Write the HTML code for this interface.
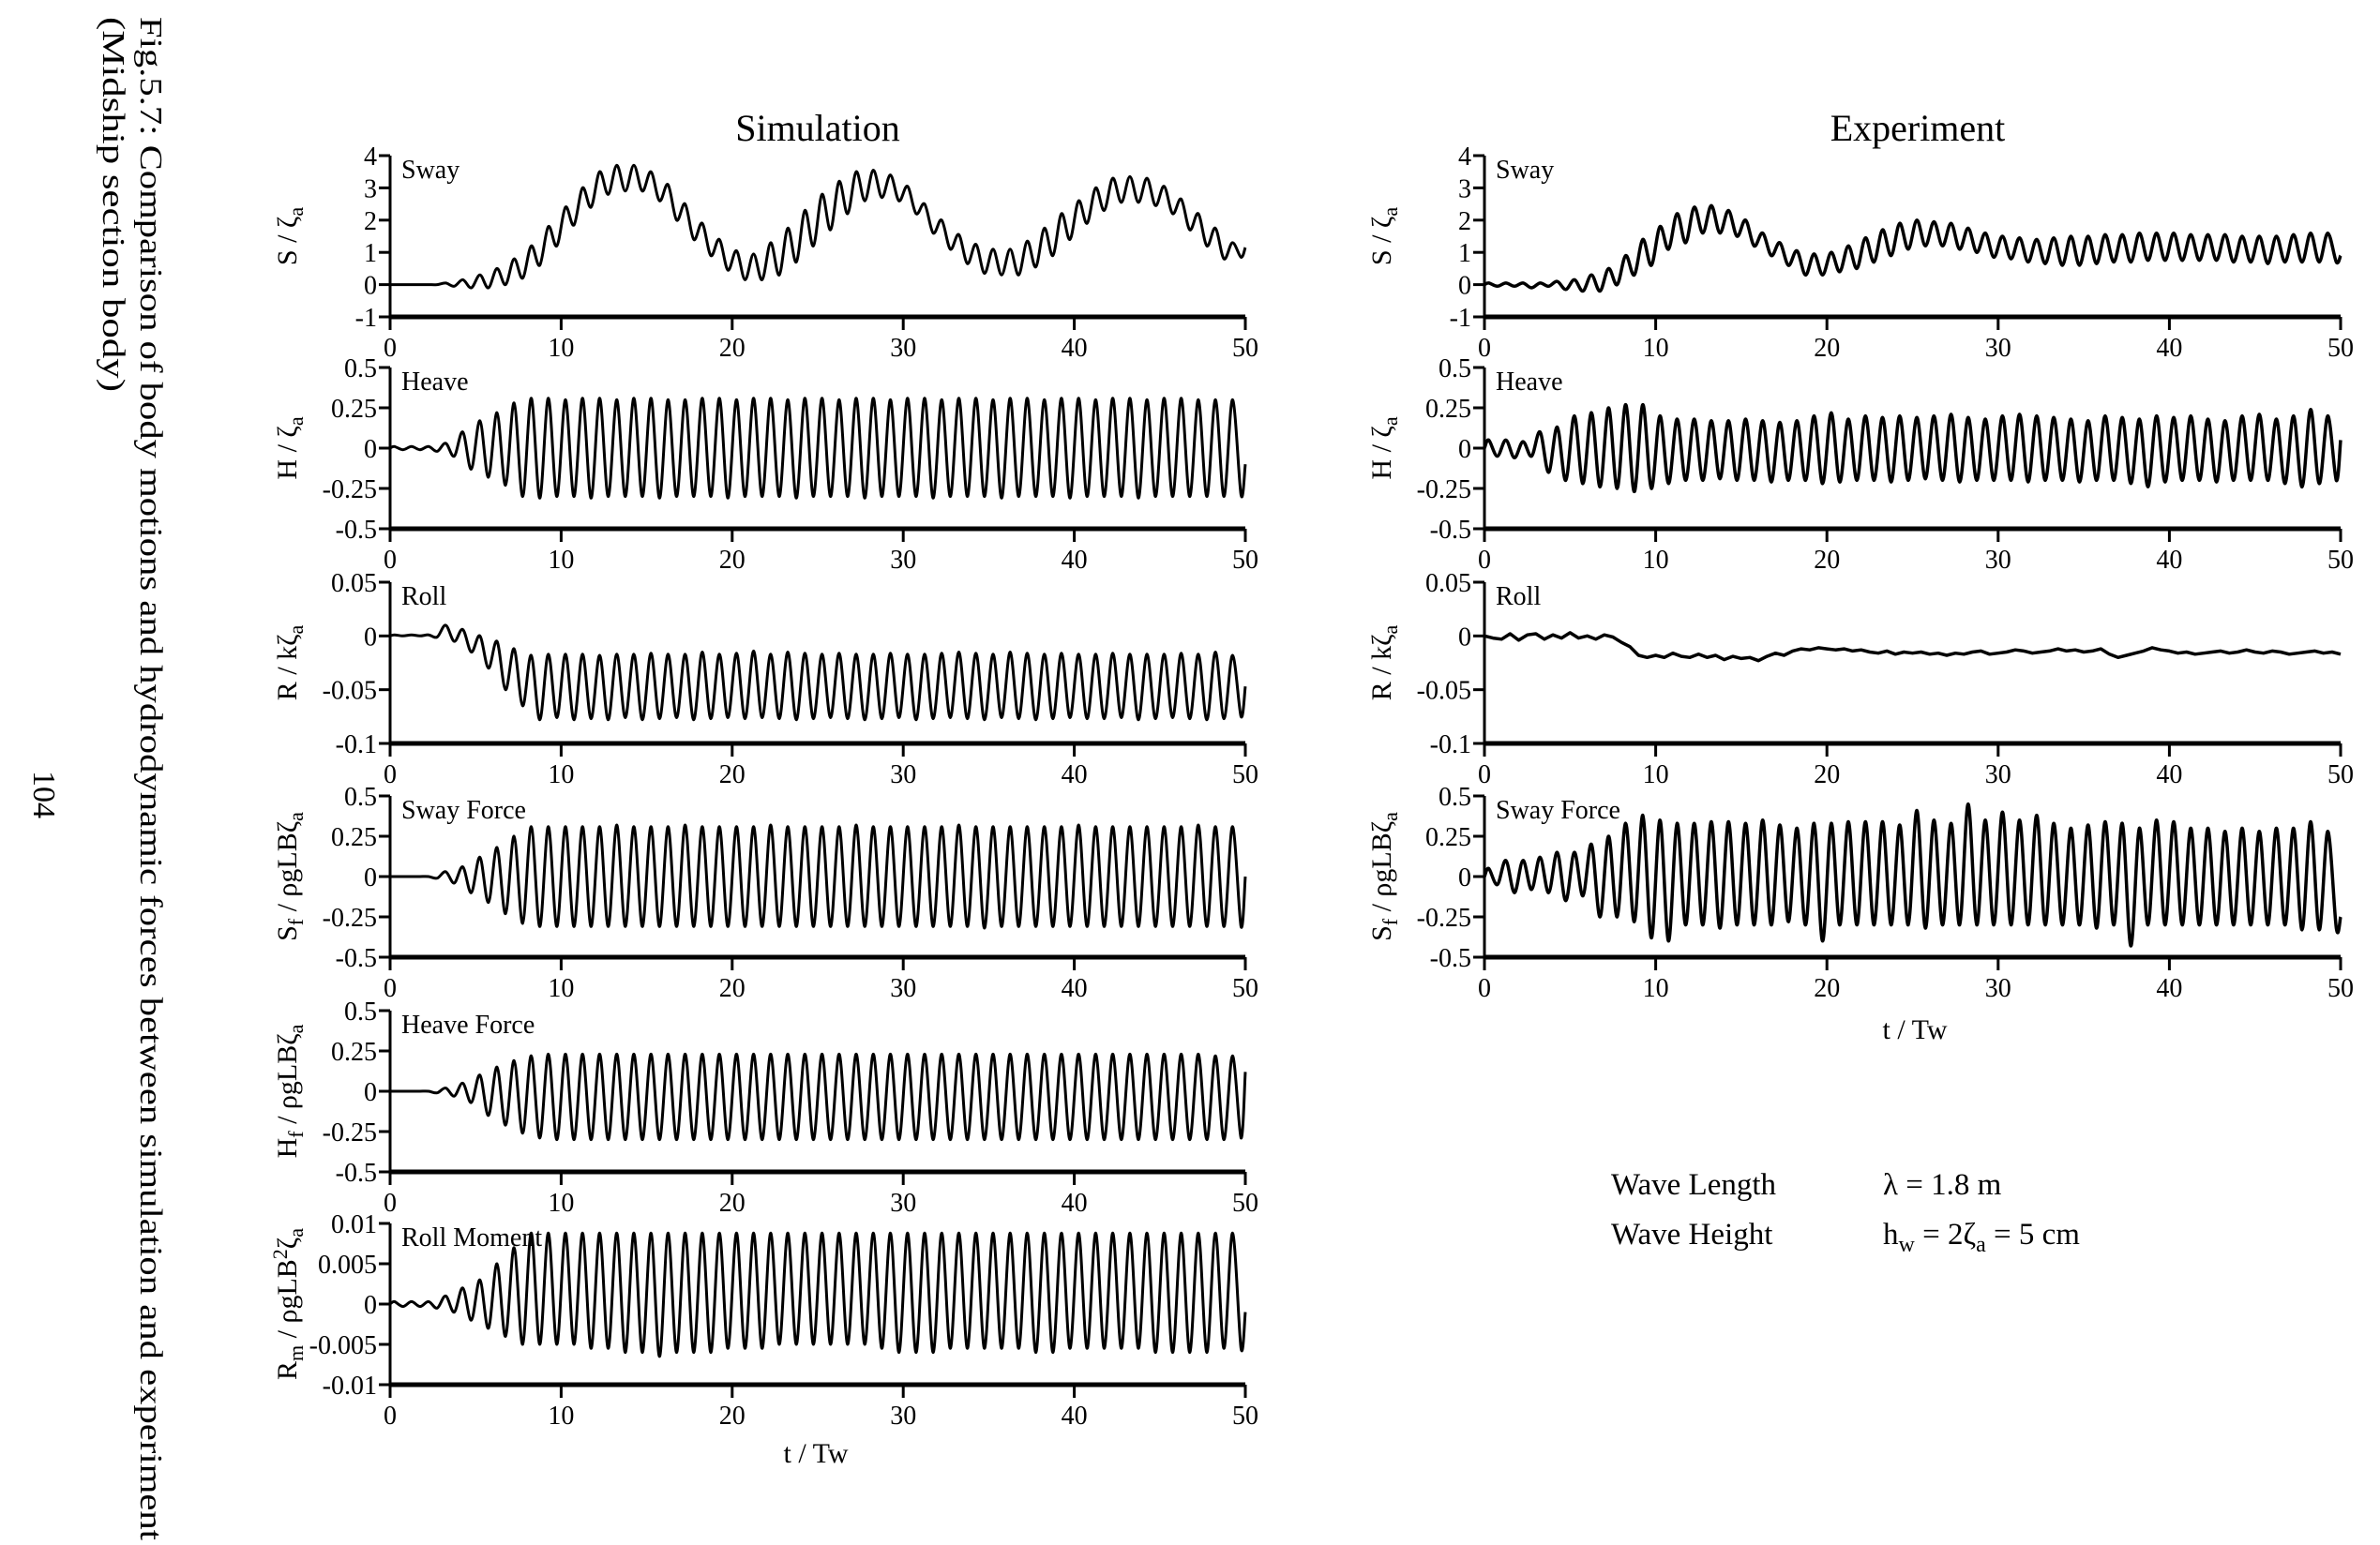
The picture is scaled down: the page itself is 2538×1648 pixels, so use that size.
<!DOCTYPE html>
<html><head><meta charset="utf-8">
<style>
html,body{margin:0;padding:0;background:#fff;}
svg{display:block;font-family:"Liberation Serif",serif;}
</style></head>
<body>
<svg id="fig" width="2538" height="1648" viewBox="0 0 2538 1648" xmlns="http://www.w3.org/2000/svg">
<rect width="2538" height="1648" fill="#fff"/>
<text transform="translate(150,18) rotate(90)" font-size="34" textLength="1625" lengthAdjust="spacingAndGlyphs">Fig.5.7: Comparison of body motions and hydrodynamic forces between simulation and experiment</text>
<text transform="translate(110,18) rotate(90)" font-size="34" textLength="400" lengthAdjust="spacingAndGlyphs">(Midship section body)</text>
<text transform="translate(36,822) rotate(90)" font-size="34">104</text>
<text x="872" y="150" font-size="40" text-anchor="middle">Simulation</text>
<text x="2045" y="150" font-size="40" text-anchor="middle">Experiment</text>
<text x="870" y="1560" font-size="30" text-anchor="middle">t / Tw</text>
<text x="2042" y="1108" font-size="30" text-anchor="middle">t / Tw</text>
<g font-size="33">
<text x="1718" y="1274">Wave Length</text>
<text x="2008" y="1274">λ = 1.8 m</text>
<text x="1718" y="1327">Wave Height</text>
<text x="2008" y="1327">h<tspan dy="8" font-size="24">w</tspan><tspan dy="-8"> = 2ζ</tspan><tspan dy="8" font-size="24">a</tspan><tspan dy="-8"> = 5 cm</tspan></text>
</g>
</svg>
<script>
const xTicks = [0,10,20,30,40,50];
const swayTicks = [4,3,2,1,0,-1];
const halfTicks = [0.5,0.25,0,-0.25,-0.5];
const rollTicks = [0.05,0,-0.05,-0.1];
const momentTicks = [0.01,0.005,0,-0.005,-0.01];

const simSwayPeaks = [0,0,0,0.05,0.15,0.3,0.5,0.8,1.2,1.8,2.4,3.0,3.5,3.7,3.7,3.5,3.1,2.5,1.9,1.4,1.05,0.95,1.3,1.75,2.3,2.8,3.2,3.5,3.55,3.4,3.05,2.5,2.0,1.55,1.25,1.1,1.1,1.35,1.75,2.2,2.6,3.0,3.3,3.35,3.3,3.05,2.65,2.2,1.75,1.3];
const simSwayTroughs = [0,0,0,-0.05,-0.1,-0.1,0.0,0.2,0.6,1.2,1.85,2.4,2.8,2.9,2.9,2.6,2.0,1.4,0.9,0.45,0.15,0.15,0.3,0.7,1.2,1.7,2.2,2.6,2.7,2.6,2.2,1.6,1.1,0.65,0.35,0.3,0.3,0.55,0.9,1.4,1.9,2.3,2.55,2.55,2.45,2.2,1.7,1.2,0.8,0.85];
const simSwayEnd = 1.15;

const simHeavePeaks = [0.01,0.01,0.01,0.03,0.1,0.17,0.22,0.28,0.31,0.31,0.3,0.31,0.31,0.3,0.31,0.31,0.3,0.3,0.31,0.31,0.3,0.31,0.31,0.3,0.31,0.31,0.3,0.31,0.31,0.3,0.31,0.31,0.3,0.31,0.31,0.3,0.31,0.31,0.3,0.31,0.31,0.3,0.31,0.31,0.3,0.31,0.31,0.3,0.3,0.3];
const simHeaveTroughs = [-0.01,-0.01,-0.02,-0.05,-0.13,-0.18,-0.23,-0.3,-0.31,-0.3,-0.3,-0.31,-0.3,-0.3,-0.3,-0.31,-0.3,-0.3,-0.3,-0.31,-0.3,-0.3,-0.3,-0.31,-0.3,-0.3,-0.3,-0.31,-0.3,-0.3,-0.3,-0.31,-0.3,-0.3,-0.3,-0.31,-0.3,-0.3,-0.3,-0.31,-0.3,-0.3,-0.3,-0.31,-0.3,-0.3,-0.3,-0.3,-0.3,-0.29];
const simHeaveEnd = -0.1;

const simRollPeaks = [0.001,0.001,0.001,0.01,0.006,0.0,-0.005,-0.012,-0.018,-0.017,-0.017,-0.017,-0.018,-0.017,-0.017,-0.016,-0.017,-0.017,-0.015,-0.017,-0.016,-0.014,-0.017,-0.015,-0.016,-0.017,-0.016,-0.017,-0.017,-0.016,-0.017,-0.017,-0.016,-0.015,-0.016,-0.017,-0.015,-0.016,-0.017,-0.016,-0.017,-0.017,-0.016,-0.017,-0.017,-0.017,-0.016,-0.017,-0.015,-0.018];
const simRollTroughs = [0,0,-0.001,-0.005,-0.015,-0.03,-0.05,-0.065,-0.078,-0.076,-0.078,-0.077,-0.078,-0.076,-0.078,-0.077,-0.076,-0.078,-0.077,-0.076,-0.077,-0.076,-0.077,-0.078,-0.077,-0.076,-0.077,-0.078,-0.077,-0.076,-0.078,-0.077,-0.076,-0.077,-0.078,-0.076,-0.077,-0.078,-0.077,-0.076,-0.077,-0.077,-0.076,-0.078,-0.077,-0.076,-0.077,-0.078,-0.077,-0.075];
const simRollEnd = -0.047;

const simSwayForcePeaks = [0,0,0,0.03,0.06,0.12,0.18,0.25,0.31,0.31,0.31,0.31,0.31,0.32,0.31,0.31,0.31,0.32,0.31,0.31,0.31,0.31,0.32,0.31,0.31,0.31,0.31,0.32,0.31,0.31,0.31,0.31,0.31,0.32,0.31,0.31,0.31,0.31,0.31,0.31,0.32,0.31,0.31,0.31,0.31,0.31,0.31,0.32,0.31,0.31];
const simSwayForceTroughs = [0,0,-0.01,-0.04,-0.1,-0.16,-0.23,-0.29,-0.31,-0.31,-0.31,-0.31,-0.31,-0.31,-0.31,-0.31,-0.31,-0.31,-0.31,-0.31,-0.31,-0.31,-0.31,-0.31,-0.31,-0.31,-0.31,-0.31,-0.31,-0.31,-0.31,-0.31,-0.31,-0.31,-0.32,-0.31,-0.31,-0.31,-0.31,-0.31,-0.31,-0.31,-0.31,-0.31,-0.31,-0.31,-0.31,-0.31,-0.31,-0.31];
const simSwayForceEnd = 0;

const simHeaveForcePeaks = [0,0,0,0.02,0.05,0.1,0.15,0.19,0.22,0.23,0.23,0.23,0.23,0.23,0.23,0.23,0.23,0.23,0.23,0.23,0.23,0.23,0.23,0.23,0.23,0.23,0.23,0.23,0.23,0.23,0.23,0.23,0.23,0.23,0.23,0.23,0.23,0.23,0.23,0.23,0.23,0.23,0.23,0.23,0.23,0.23,0.23,0.23,0.22,0.22];
const simHeaveForceTroughs = [0,0,-0.01,-0.03,-0.07,-0.15,-0.21,-0.26,-0.29,-0.3,-0.3,-0.3,-0.3,-0.3,-0.3,-0.3,-0.3,-0.3,-0.3,-0.3,-0.3,-0.3,-0.3,-0.3,-0.3,-0.3,-0.3,-0.3,-0.3,-0.3,-0.3,-0.3,-0.3,-0.3,-0.3,-0.3,-0.3,-0.3,-0.3,-0.3,-0.3,-0.3,-0.3,-0.3,-0.3,-0.3,-0.3,-0.3,-0.3,-0.29];
const simHeaveForceEnd = 0.12;

const simMomentPeaks = [0.0003,0.0003,0.0003,0.001,0.002,0.003,0.005,0.007,0.0088,0.0088,0.0088,0.0088,0.0088,0.0088,0.0088,0.0088,0.0088,0.0088,0.0088,0.0088,0.0088,0.0088,0.0088,0.0088,0.0088,0.0088,0.0088,0.0088,0.0088,0.0088,0.0088,0.0088,0.0088,0.0088,0.0088,0.0088,0.0088,0.0088,0.0088,0.0088,0.0088,0.0088,0.0088,0.0088,0.0088,0.0088,0.0088,0.0088,0.0088,0.0088];
const simMomentTroughs = [-0.0003,-0.0003,-0.0005,-0.001,-0.002,-0.003,-0.004,-0.005,-0.005,-0.005,-0.005,-0.0055,-0.0055,-0.006,-0.006,-0.0065,-0.006,-0.006,-0.006,-0.0055,-0.0055,-0.0055,-0.005,-0.005,-0.005,-0.005,-0.005,-0.005,-0.0055,-0.006,-0.006,-0.006,-0.0055,-0.0055,-0.0055,-0.0055,-0.0055,-0.006,-0.006,-0.0055,-0.0055,-0.0055,-0.0055,-0.0055,-0.006,-0.006,-0.006,-0.006,-0.0055,-0.0055];
const simMomentEnd = -0.001;

const expSwayPeaks = [0.05,0.05,0.05,0.05,0.1,0.15,0.3,0.5,0.9,1.4,1.8,2.2,2.4,2.45,2.3,2.0,1.6,1.3,1.05,0.95,1.0,1.2,1.45,1.7,1.9,2.0,1.95,1.9,1.75,1.6,1.5,1.45,1.4,1.45,1.5,1.5,1.55,1.55,1.6,1.6,1.6,1.55,1.55,1.55,1.5,1.5,1.5,1.55,1.6,1.6];
const expSwayTroughs = [-0.05,-0.05,-0.1,-0.05,-0.15,-0.2,-0.2,0.0,0.3,0.6,1.1,1.3,1.6,1.6,1.5,1.2,0.9,0.6,0.3,0.3,0.4,0.5,0.7,0.9,1.1,1.2,1.2,1.1,1.0,0.85,0.8,0.7,0.65,0.6,0.6,0.65,0.7,0.7,0.75,0.75,0.75,0.75,0.75,0.7,0.7,0.65,0.7,0.7,0.7,0.7];
const expSwayEnd = 0.9;

const expHeavePeaks = [0.05,0.05,0.04,0.1,0.13,0.2,0.22,0.25,0.27,0.27,0.2,0.18,0.18,0.17,0.17,0.18,0.17,0.16,0.17,0.2,0.22,0.18,0.2,0.19,0.2,0.19,0.2,0.21,0.19,0.18,0.2,0.21,0.2,0.19,0.18,0.17,0.2,0.19,0.18,0.2,0.19,0.2,0.18,0.17,0.2,0.21,0.18,0.2,0.24,0.2];
const expHeaveTroughs = [-0.05,-0.06,-0.05,-0.15,-0.2,-0.22,-0.24,-0.25,-0.27,-0.25,-0.22,-0.2,-0.2,-0.19,-0.2,-0.2,-0.21,-0.2,-0.2,-0.22,-0.21,-0.2,-0.2,-0.21,-0.2,-0.19,-0.2,-0.21,-0.2,-0.2,-0.2,-0.21,-0.2,-0.2,-0.21,-0.2,-0.2,-0.22,-0.24,-0.21,-0.2,-0.2,-0.21,-0.2,-0.2,-0.2,-0.22,-0.24,-0.22,-0.2];
const expHeaveEnd = 0.05;

const expRollValues = [0,-0.002,-0.003,0.002,-0.004,0.001,0.002,-0.003,0.001,-0.002,0.003,-0.002,0,-0.003,0.001,-0.001,-0.006,-0.01,-0.018,-0.02,-0.018,-0.02,-0.016,-0.019,-0.02,-0.017,-0.02,-0.018,-0.022,-0.019,-0.021,-0.02,-0.023,-0.019,-0.016,-0.018,-0.014,-0.012,-0.013,-0.011,-0.012,-0.013,-0.012,-0.014,-0.013,-0.015,-0.016,-0.014,-0.017,-0.015,-0.016,-0.015,-0.017,-0.016,-0.018,-0.016,-0.017,-0.015,-0.014,-0.017,-0.016,-0.015,-0.013,-0.014,-0.016,-0.015,-0.014,-0.012,-0.014,-0.013,-0.015,-0.014,-0.012,-0.017,-0.02,-0.018,-0.016,-0.014,-0.011,-0.013,-0.014,-0.016,-0.015,-0.017,-0.016,-0.015,-0.014,-0.016,-0.015,-0.013,-0.015,-0.016,-0.014,-0.015,-0.017,-0.016,-0.015,-0.014,-0.016,-0.015,-0.017];

const expSwayForcePeaks = [0.05,0.1,0.1,0.12,0.15,0.15,0.2,0.25,0.33,0.38,0.35,0.33,0.33,0.34,0.34,0.33,0.35,0.32,0.3,0.33,0.33,0.34,0.34,0.34,0.32,0.41,0.35,0.33,0.45,0.35,0.4,0.35,0.38,0.33,0.3,0.32,0.34,0.33,0.3,0.35,0.34,0.3,0.3,0.28,0.3,0.28,0.3,0.3,0.34,0.28];
const expSwayForceTroughs = [-0.05,-0.1,-0.08,-0.1,-0.15,-0.12,-0.25,-0.25,-0.28,-0.38,-0.4,-0.3,-0.3,-0.32,-0.3,-0.3,-0.3,-0.28,-0.3,-0.4,-0.3,-0.3,-0.3,-0.3,-0.3,-0.32,-0.3,-0.3,-0.3,-0.3,-0.3,-0.3,-0.3,-0.3,-0.3,-0.32,-0.3,-0.43,-0.3,-0.3,-0.3,-0.3,-0.3,-0.3,-0.3,-0.3,-0.3,-0.33,-0.33,-0.32];
const expSwayForceEnd = -0.25;

const NS = "http://www.w3.org/2000/svg";
const svg = document.getElementById('fig');
function mk(tag, attrs, parent){ const e=document.createElementNS(NS,tag); for(const k in attrs) e.setAttribute(k,attrs[k]); (parent||svg).appendChild(e); return e; }

const SIM = {x0:416, x1:1328};
const EXP = {x0:1583, x1:2496};
const TOPS = [166, 392, 621, 849, 1078, 1305];
const H = 172;

function cyclePoints(peaks, troughs, endVal){
  const pts=[[0,0]];
  for(let k=0;k<peaks.length;k++){ pts.push([k+0.25,peaks[k]]); pts.push([k+0.75,troughs[k]]); }
  pts.push([50,endVal]);
  return pts;
}
function seriesPoints(vals){
  const dt = 50/(vals.length-1);
  return vals.map((v,i)=>[i*dt,v]);
}
function smoothPath(P){
  let d='M'+P[0][0].toFixed(1)+','+P[0][1].toFixed(1);
  for(let i=0;i<P.length-1;i++){
    const p0=P[Math.max(0,i-1)], p1=P[i], p2=P[i+1], p3=P[Math.min(P.length-1,i+2)];
    const c1=[p1[0]+(p2[0]-p0[0])/6, p1[1]+(p2[1]-p0[1])/6];
    const c2=[p2[0]-(p3[0]-p1[0])/6, p2[1]-(p3[1]-p1[1])/6];
    d+='C'+c1[0].toFixed(1)+','+c1[1].toFixed(1)+' '+c2[0].toFixed(1)+','+c2[1].toFixed(1)+' '+p2[0].toFixed(1)+','+p2[1].toFixed(1);
  }
  return d;
}

function panel(opt){
  const g = mk('g',{});
  
  
  const x0=opt.col.x0, x1=opt.col.x1, top=opt.top, bot=top+H;
  const ticks=opt.ticks, ymax=ticks[0], ymin=ticks[ticks.length-1];
  const sx = t => x0 + (t/50)*(x1-x0);
  const sy = v => bot - (v-ymin)/(ymax-ymin)*H;
  const ya = mk('line',{x1:x0,y1:top,x2:x0,y2:bot+14,stroke:'#000','stroke-width':3},g);
  
  
  ticks.forEach(v=>{
    mk('line',{x1:x0-12,y1:sy(v),x2:x0,y2:sy(v),stroke:'#000','stroke-width':3},g);
    const t = mk('text',{x:x0-14,y:sy(v)+10,'font-size':28,'text-anchor':'end'},g);
    t.textContent = String(v);
    
    
  });
  const xa = mk('line',{x1:x0,y1:bot,x2:x1,y2:bot,stroke:'#000','stroke-width':5},g);
  
  
  xTicks.forEach(v=>{
    mk('line',{x1:sx(v),y1:bot,x2:sx(v),y2:bot+14,stroke:'#000','stroke-width':3},g);
    const t = mk('text',{x:sx(v),y:bot+42,'font-size':28,'text-anchor':'middle'},g);
    t.textContent = String(v);
    
    
  });
  const lb = mk('text',{x:x0+12,y:top+24,'font-size':28},g);
  lb.textContent = opt.label;
  
  
  const yt = mk('text',{transform:'translate('+(opt.col.x0-100)+','+(top+H/2)+') rotate(-90)','font-size':30,'text-anchor':'middle'},g);
  yt.innerHTML = opt.ytitle;
  
  
  const P = opt.pts.map(p=>[sx(p[0]), sy(p[1])]);
  const path = mk('path',{d: opt.raw ? 'M'+P.map(p=>p[0].toFixed(1)+','+p[1].toFixed(1)).join('L') : smoothPath(P), fill:'none', stroke:'#000','stroke-width':opt.sw||3,'stroke-linejoin':'round'},g);
  
  
}

const sub = s => '<tspan dy="7" font-size="22">'+s+'</tspan><tspan dy="-7">';
panel({name:'sim-sway',col:SIM,top:TOPS[0],ticks:swayTicks,label:'Sway',ytitle:'S / ζ'+sub('a')+'</tspan>',pts:cyclePoints(simSwayPeaks,simSwayTroughs,simSwayEnd)});
panel({name:'sim-heave',col:SIM,top:TOPS[1],ticks:halfTicks,label:'Heave',ytitle:'H / ζ'+sub('a')+'</tspan>',pts:cyclePoints(simHeavePeaks,simHeaveTroughs,simHeaveEnd)});
panel({name:'sim-roll',col:SIM,top:TOPS[2],ticks:rollTicks,label:'Roll',ytitle:'R / kζ'+sub('a')+'</tspan>',pts:cyclePoints(simRollPeaks,simRollTroughs,simRollEnd)});
panel({name:'sim-sway-force',col:SIM,top:TOPS[3],ticks:halfTicks,label:'Sway Force',ytitle:'S'+sub('f')+' / ρgLBζ'+sub('a')+'</tspan></tspan>',pts:cyclePoints(simSwayForcePeaks,simSwayForceTroughs,simSwayForceEnd)});
panel({name:'sim-heave-force',col:SIM,top:TOPS[4],ticks:halfTicks,label:'Heave Force',ytitle:'H'+sub('f')+' / ρgLBζ'+sub('a')+'</tspan></tspan>',pts:cyclePoints(simHeaveForcePeaks,simHeaveForceTroughs,simHeaveForceEnd)});
panel({name:'sim-roll-moment',col:SIM,top:TOPS[5],ticks:momentTicks,label:'Roll Moment',ytitle:'R'+sub('m')+' / ρgLB<tspan dy="-10" font-size="22">2</tspan><tspan dy="10">ζ</tspan>'+sub('a')+'</tspan></tspan>',pts:cyclePoints(simMomentPeaks,simMomentTroughs,simMomentEnd)});

panel({name:'exp-sway',col:EXP,top:TOPS[0],ticks:swayTicks,label:'Sway',ytitle:'S / ζ'+sub('a')+'</tspan>',pts:cyclePoints(expSwayPeaks,expSwayTroughs,expSwayEnd),sw:3.5});
panel({name:'exp-heave',col:EXP,top:TOPS[1],ticks:halfTicks,label:'Heave',ytitle:'H / ζ'+sub('a')+'</tspan>',pts:cyclePoints(expHeavePeaks,expHeaveTroughs,expHeaveEnd),sw:3.5});
panel({name:'exp-roll',col:EXP,top:TOPS[2],ticks:rollTicks,label:'Roll',ytitle:'R / kζ'+sub('a')+'</tspan>',pts:seriesPoints(expRollValues),raw:true,sw:3.5});
panel({name:'exp-sway-force',col:EXP,top:TOPS[3],ticks:halfTicks,label:'Sway Force',ytitle:'S'+sub('f')+' / ρgLBζ'+sub('a')+'</tspan></tspan>',pts:cyclePoints(expSwayForcePeaks,expSwayForceTroughs,expSwayForceEnd),sw:3.5});
</script>
</body></html>
